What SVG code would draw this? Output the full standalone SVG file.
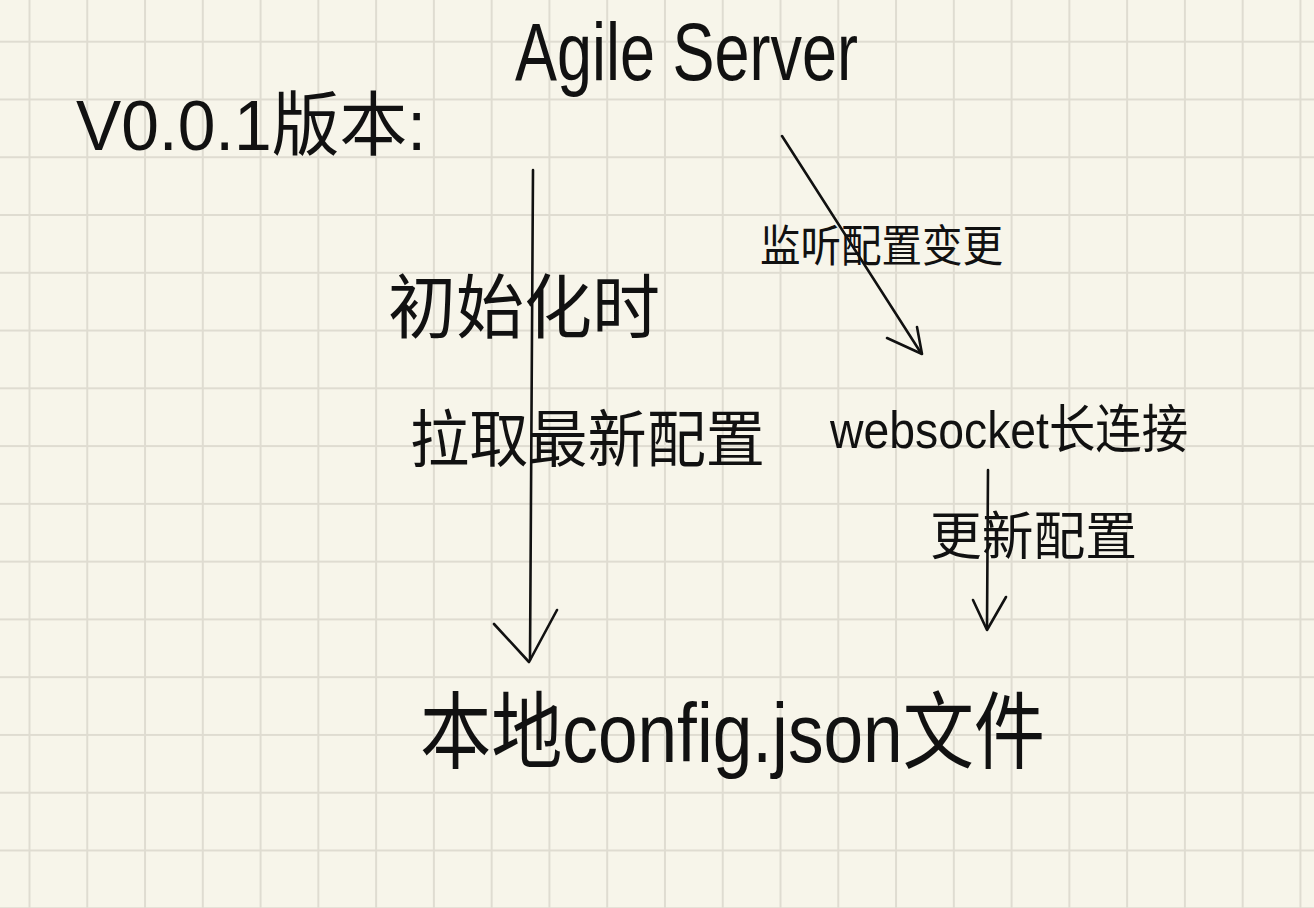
<svg xmlns="http://www.w3.org/2000/svg" width="1314" height="908" viewBox="0 0 1314 908">
  <defs>
    <pattern id="grid" patternUnits="userSpaceOnUse" x="28.5" y="40.7" width="57.77" height="57.77">
      <rect x="0" y="0" width="2" height="57.77" fill="#dfdcd1"/>
      <rect x="0" y="0" width="57.77" height="2" fill="#dfdcd1"/>
    </pattern>
    <style>
      .t { fill: #111; font-family: "Liberation Sans", "Noto Sans CJK SC", sans-serif; }
      .c { fill: none; stroke: #111; stroke-width: 2.6; stroke-linecap: round; stroke-linejoin: round; }
    </style>
  </defs>
  <rect width="1314" height="908" fill="#f7f5ea"/>
  <rect width="1314" height="908" fill="url(#grid)"/>

  <g id="connectors">
    <path class="c" d="M533,170 L530,660"/>
    <path class="c" d="M494,624 L529,662 L557,610"/>
    <path class="c" d="M782,136 L921,353"/>
    <path class="c" d="M887,338 L922,354 L917,327"/>
    <path class="c" d="M988,470 L987,628"/>
    <path class="c" d="M973,600 L987,630 L1006,597"/>
  </g>

  <g id="version">
    <text class="t" x="76" y="150" font-size="70" textLength="350" lengthAdjust="spacingAndGlyphs">V0.0.1版本:</text>
  </g>
  <g id="agile-server">
    <text class="t" x="515" y="80" font-size="82" textLength="343" lengthAdjust="spacingAndGlyphs">Agile Server</text>
  </g>
  <g id="init-label">
    <text class="t" x="388" y="333" font-size="70" textLength="272" lengthAdjust="spacingAndGlyphs">初始化时</text>
  </g>
  <g id="pull-label">
    <text class="t" x="410" y="462" font-size="62" textLength="355" lengthAdjust="spacingAndGlyphs">拉取最新配置</text>
  </g>
  <g id="listen-label">
    <text class="t" x="760" y="262" font-size="44" textLength="243" lengthAdjust="spacingAndGlyphs">监听配置变更</text>
  </g>
  <g id="websocket">
    <text class="t" x="830" y="448" font-size="52" textLength="358" lengthAdjust="spacingAndGlyphs">websocket长连接</text>
  </g>
  <g id="update-label">
    <text class="t" x="930" y="555" font-size="52" textLength="207" lengthAdjust="spacingAndGlyphs">更新配置</text>
  </g>
  <g id="local-config">
    <text class="t" x="420" y="762" font-size="84" textLength="625" lengthAdjust="spacingAndGlyphs">本地config.json文件</text>
  </g>
</svg>
